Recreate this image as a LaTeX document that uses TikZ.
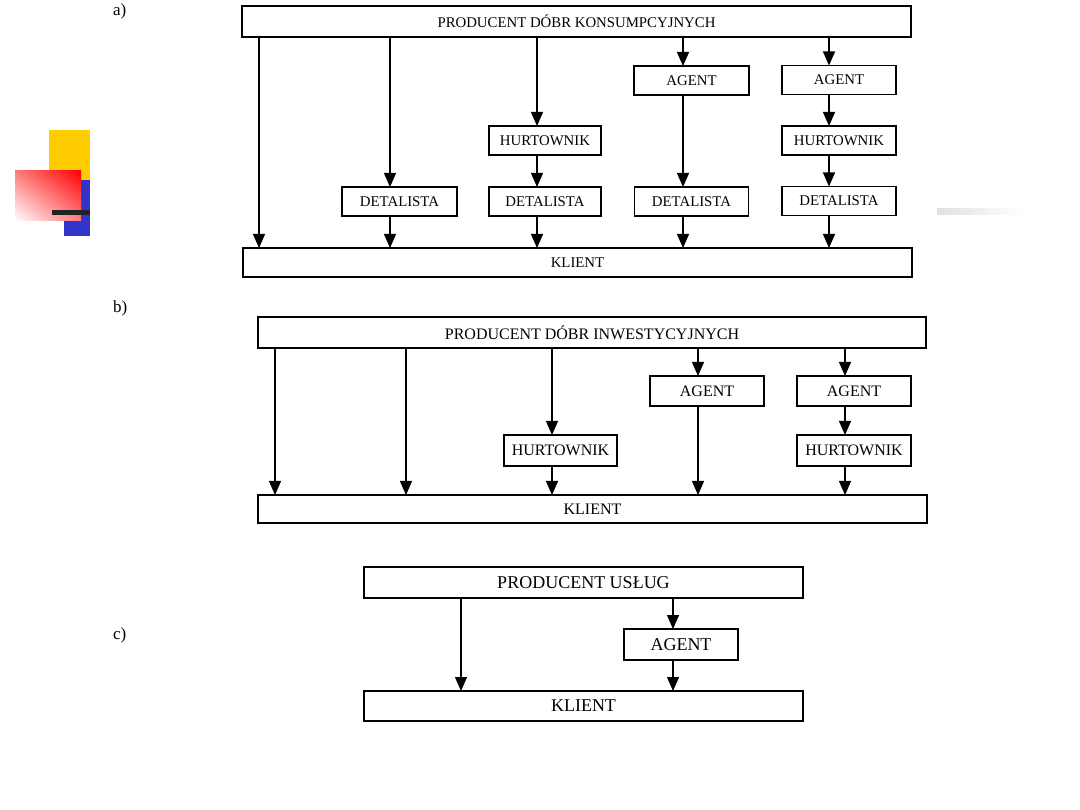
\documentclass[tikz,border=0pt]{standalone}
\usepackage{fontspec}
\setmainfont{Liberation Serif}
\usetikzlibrary{arrows.meta,shadings}
\definecolor{decoyellow}{RGB}{255,204,0}
\definecolor{decoblue}{RGB}{51,51,204}
\definecolor{decored}{RGB}{255,0,0}
\definecolor{decopink}{RGB}{255,125,125}
\definecolor{decodark}{RGB}{34,34,34}
\tikzset{
  box/.style={draw=black, line width=1.3pt, inner sep=0pt, outer sep=0pt, fill=white},
  fa/.style={font=\fontsize{14.8}{16}\selectfont},
  fb/.style={font=\fontsize{16}{18}\selectfont},
  fc/.style={font=\fontsize{18}{20}\selectfont},
  conn/.style={line width=1.2pt, draw=black},
  arr/.style={conn, -{Triangle[width=12pt,length=14pt]}},
  lbl/.style={font=\fontsize{17}{19}\selectfont, anchor=north west, inner sep=0pt}
}
\begin{document}
\begin{tikzpicture}[x=1pt,y=-1pt]
\useasboundingbox (0,0) rectangle (1080,810);
\fill[white] (0,0) rectangle (1080,810);
% decoration
\fill[decoyellow] (49,130) rectangle (90,180);
\fill[decoblue] (64,180) rectangle (90,236);
\shade[upper right=decored, lower left=white, upper left=decopink, lower right=decopink] (15,171) rectangle (81,221);
\fill[decodark] (52,210) rectangle (90,215);
\shade[left color=black!12, right color=white] (937,209) rectangle (1023,215);
% labels
\node[lbl] (la) at (113,4) {a)};
\node[lbl] (lb) at (113,301) {b)};
\node[lbl] (lc) at (113,628) {c)};

% ===== a)
\node[box, fa, minimum width=669pt, minimum height=31pt] (atop) at (576.5,21.5) {PRODUCENT DÓBR KONSUMPCYJNYCH};
\node[box, fa, minimum width=669pt, minimum height=29pt] (akl) at (577.5,262.5) {KLIENT};
\node[box, fa, minimum width=115pt, minimum height=29pt] (ad2) at (399.5,201.5) {DETALISTA};
\node[box, fa, minimum width=112pt, minimum height=29pt] (ah3) at (545,140.5) {HURTOWNIK};
\node[box, fa, minimum width=112pt, minimum height=29pt] (ad3) at (545,201.5) {DETALISTA};
\node[box, fa, minimum width=115pt, minimum height=29pt] (aa4) at (691.5,80.5) {AGENT};
\node[box, fa, minimum width=114pt, minimum height=29pt] (ad4) at (691.5,201.5) {DETALISTA};
\node[box, fa, minimum width=114pt, minimum height=29pt] (aa5) at (839,80) {AGENT};
\node[box, fa, minimum width=114pt, minimum height=29pt] (ah5) at (839,140.5) {HURTOWNIK};
\node[box, fa, minimum width=114pt, minimum height=29pt] (ad5) at (839,201) {DETALISTA};
\coordinate (ax1) at (259,0);
\coordinate (ax2) at (390,0);
\coordinate (ax3) at (537,0);
\coordinate (ax4) at (683,0);
\coordinate (ax5) at (829,0);
\draw[arr] (atop.south -| ax1) -- (akl.north -| ax1);
\draw[arr] (atop.south -| ax2) -- (ad2.north -| ax2);
\draw[arr] (ad2.south -| ax2) -- (akl.north -| ax2);
\draw[arr] (atop.south -| ax3) -- (ah3.north -| ax3);
\draw[arr] (ah3.south -| ax3) -- (ad3.north -| ax3);
\draw[arr] (ad3.south -| ax3) -- (akl.north -| ax3);
\draw[arr] (atop.south -| ax4) -- (aa4.north -| ax4);
\draw[arr] (aa4.south -| ax4) -- (ad4.north -| ax4);
\draw[arr] (ad4.south -| ax4) -- (akl.north -| ax4);
\draw[arr] (atop.south -| ax5) -- (aa5.north -| ax5);
\draw[arr] (aa5.south -| ax5) -- (ah5.north -| ax5);
\draw[arr] (ah5.south -| ax5) -- (ad5.north -| ax5);
\draw[arr] (ad5.south -| ax5) -- (akl.north -| ax5);

% ===== b)
\node[box, fb, minimum width=668pt, minimum height=31pt] (btop) at (592,332.5) {PRODUCENT DÓBR INWESTYCYJNYCH};
\node[box, fb, minimum width=669pt, minimum height=28pt] (bkl) at (592.5,509) {KLIENT};
\node[box, fb, minimum width=113pt, minimum height=31pt] (bh3) at (560.5,450.5) {HURTOWNIK};
\node[box, fb, minimum width=114pt, minimum height=30pt] (ba4) at (707,391) {AGENT};
\node[box, fb, minimum width=114pt, minimum height=30pt] (ba5) at (854,391) {AGENT};
\node[box, fb, minimum width=114pt, minimum height=31pt] (bh5) at (854,450.5) {HURTOWNIK};
\coordinate (bx1) at (275,0);
\coordinate (bx2) at (406,0);
\coordinate (bx3) at (552,0);
\coordinate (bx4) at (698,0);
\coordinate (bx5) at (845,0);
\draw[arr] (btop.south -| bx1) -- (bkl.north -| bx1);
\draw[arr] (btop.south -| bx2) -- (bkl.north -| bx2);
\draw[arr] (btop.south -| bx3) -- (bh3.north -| bx3);
\draw[arr] (bh3.south -| bx3) -- (bkl.north -| bx3);
\draw[arr] (btop.south -| bx4) -- (ba4.north -| bx4);
\draw[arr] (ba4.south -| bx4) -- (bkl.north -| bx4);
\draw[arr] (btop.south -| bx5) -- (ba5.north -| bx5);
\draw[arr] (ba5.south -| bx5) -- (bh5.north -| bx5);
\draw[arr] (bh5.south -| bx5) -- (bkl.north -| bx5);

% ===== c)
\node[box, fc, minimum width=439pt, minimum height=31pt] (ctop) at (583.5,582.5) {PRODUCENT USŁUG};
\node[box, fc, minimum width=439pt, minimum height=30pt] (ckl) at (583.5,706) {KLIENT};
\node[box, fc, minimum width=114pt, minimum height=31pt] (ca) at (681,644.5) {AGENT};
\coordinate (cx1) at (461,0);
\coordinate (cx2) at (673,0);
\draw[arr] (ctop.south -| cx1) -- (ckl.north -| cx1);
\draw[arr] (ctop.south -| cx2) -- (ca.north -| cx2);
\draw[arr] (ca.south -| cx2) -- (ckl.north -| cx2);
\end{tikzpicture}
\end{document}
